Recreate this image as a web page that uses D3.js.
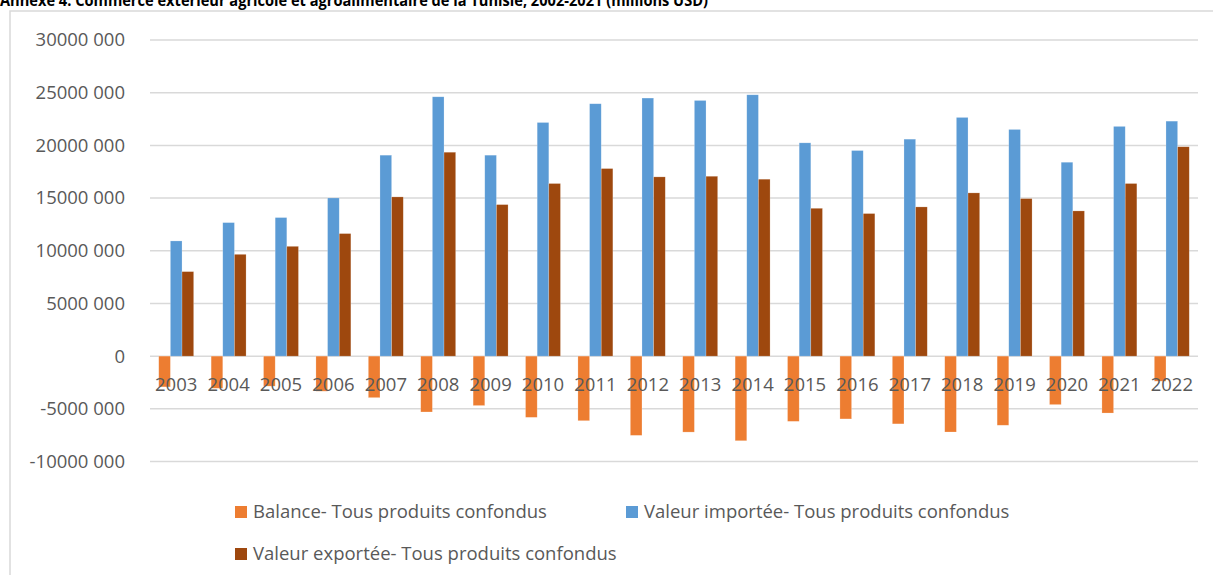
<!DOCTYPE html>
<html>
<head>
<meta charset="utf-8">
<script src="https://cdn.jsdelivr.net/npm/d3@7"></script>
<style>
  html, body { margin: 0; padding: 0; background: #fff; overflow: hidden; }
  svg { display: block; }
  text { font-family: "Open Sans", "Noto Sans", sans-serif; }
</style>
</head>
<body>
<svg id="chart" width="1213" height="575"></svg>
<script>
// Agricultural and agri-food foreign trade of Tunisia, by year
const years = ["2003","2004","2005","2006","2007","2008","2009","2010","2011","2012",
               "2013","2014","2015","2016","2017","2018","2019","2020","2021","2022"];

const balance = [-2920000,-3050000,-2850000,-3330000,-3940000,-5300000,-4690000,-5810000,-6130000,-7520000,
                 -7210000,-8030000,-6190000,-5960000,-6430000,-7200000,-6560000,-4600000,-5400000,-2380000];
const imports = [10930000,12670000,13150000,15010000,19070000,24610000,19070000,22170000,23950000,24490000,
                 24260000,24800000,20240000,19510000,20590000,22650000,21510000,18400000,21800000,22300000];
const exports = [8020000,9660000,10420000,11630000,15110000,19350000,14380000,16380000,17800000,17010000,
                 17070000,16790000,14030000,13530000,14160000,15490000,14950000,13780000,16380000,19870000];

const seriesNames = ["Balance- Tous produits confondus",
                     "Valeur importée- Tous produits confondus",
                     "Valeur exportée- Tous produits confondus"];
const seriesColors = ["#ED7D31", "#5B9BD5", "#9E480E"];

const yTicks = [-10000000,-5000000,0,5000000,10000000,15000000,20000000,25000000,30000000];
const yTickLabels = ["-10000 000","-5000 000","0","5000 000","10000 000","15000 000","20000 000","25000 000","30000 000"];

const titleText = "Annexe 4. Commerce extérieur agricole et agroalimentaire de la Tunisie, 2002-2021 (millions USD)";

const seriesValues = [balance, imports, exports];

const svg = d3.select("#chart");

// Title, sitting above the chart frame at the very top of the page
svg.append("text")
  .attr("x", 0).attr("y", 6)
  .attr("font-size", 16.5).attr("font-weight", "bold")
  .attr("textLength", 708).attr("lengthAdjust", "spacingAndGlyphs")
  .attr("fill", "#000")
  .text(titleText);

// Chart frame
svg.append("rect")
  .attr("x", 10).attr("y", 11)
  .attr("width", 1240).attr("height", 600)
  .attr("fill", "#fff")
  .attr("stroke", "#d9d9d9").attr("stroke-width", 1.5);

const plotLeft = 150, plotRight = 1198;
const y = d3.scaleLinear().domain([-10000000, 30000000]).range([461.5, 40]);

const x0 = d3.scaleBand().domain(years).range([plotLeft, plotRight])
  .paddingInner(1/3).paddingOuter(1/6);
const x1 = d3.scaleBand().domain(d3.range(3)).range([0, x0.bandwidth()]).padding(0);

// Horizontal gridlines
svg.append("g").selectAll("line").data(yTicks).join("line")
  .attr("x1", plotLeft).attr("x2", plotRight)
  .attr("y1", d => y(d)).attr("y2", d => y(d))
  .attr("stroke", "#d9d9d9").attr("stroke-width", 1.5);

// Y axis labels
const yAxis = d3.axisLeft(y).tickValues(yTicks)
  .tickFormat((d, i) => yTickLabels[i]).tickSize(0).tickPadding(0);
const gy = svg.append("g").attr("transform", "translate(125,0)").call(yAxis);
gy.select(".domain").remove();
gy.selectAll("text").attr("font-size", 18.5).attr("fill", "#595959")
  .attr("font-family", "'Open Sans', sans-serif");

// Bars
const rows = [];
years.forEach((yr, i) => {
  seriesValues.forEach((vals, s) => rows.push({ year: yr, s, v: vals[i] }));
});
svg.append("g").selectAll("rect").data(rows).join("rect")
  .attr("x", d => x0(d.year) + x1(d.s))
  .attr("width", x1.bandwidth())
  .attr("y", d => y(Math.max(0, d.v)))
  .attr("height", d => Math.abs(y(d.v) - y(0)))
  .attr("fill", d => seriesColors[d.s])
  .attr("stroke", "rgba(255,255,255,0.35)").attr("stroke-width", 0.6);

// Category labels drawn over the bars, just below the zero line
const xAxis = d3.axisBottom(x0).tickSize(0).tickPadding(0);
const gx = svg.append("g").attr("transform", `translate(0,${y(0)})`).call(xAxis);
gx.select(".domain").remove();
gx.selectAll("text").attr("font-size", 18.5).attr("fill", "#595959")
  .attr("dy", null).attr("y", 35)
  .attr("font-family", "'Open Sans', sans-serif");

// Legend
const legendItems = [
  { s: 0, x: 235, y: 512 },
  { s: 1, x: 626, y: 512 },
  { s: 2, x: 235, y: 554 }
];
const lg = svg.append("g").selectAll("g").data(legendItems).join("g")
  .attr("transform", d => `translate(${d.x},${d.y})`);
lg.append("rect").attr("x", 0).attr("y", -6).attr("width", 12).attr("height", 12)
  .attr("fill", d => seriesColors[d.s]);
lg.append("text").attr("x", 18).attr("y", 0).attr("dy", "0.35em")
  .attr("font-size", 18.5).attr("fill", "#595959")
  .text(d => seriesNames[d.s]);
</script>
</body>
</html>
